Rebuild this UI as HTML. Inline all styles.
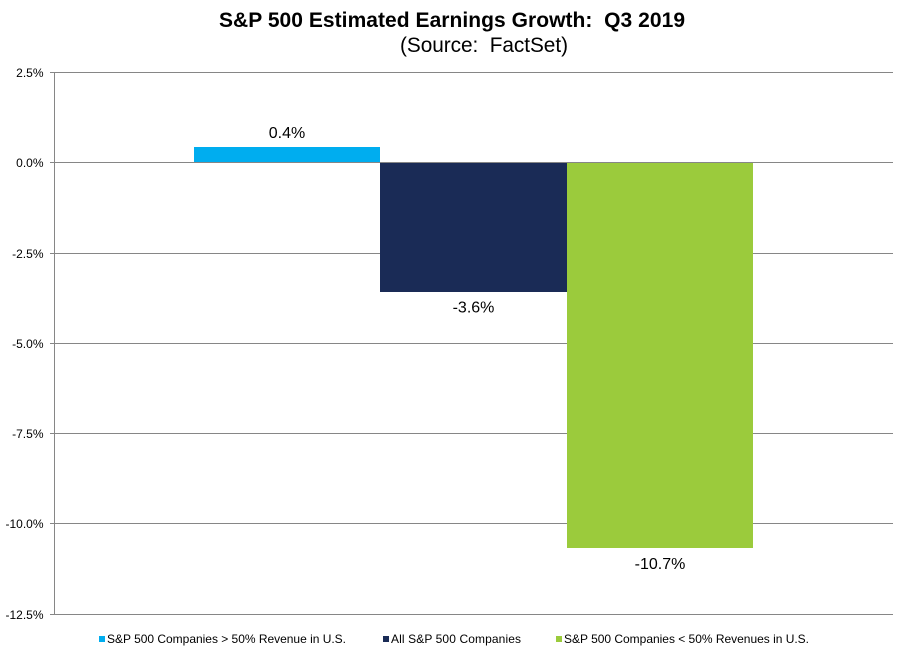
<!DOCTYPE html>
<html lang="en">
<head>
<meta charset="utf-8">
<title>S&amp;P 500 Estimated Earnings Growth: Q3 2019</title>
<style>
html,body{margin:0;padding:0;background:#fff;}
svg{display:block;font-family:"Liberation Sans",Arial,sans-serif;}
</style>
</head>
<body>
<svg id="chart" width="906" height="653" viewBox="0 0 906 653" xmlns="http://www.w3.org/2000/svg">
<rect x="0" y="0" width="906" height="653" fill="#ffffff"/>
<text x="219" y="27" textLength="466" lengthAdjust="spacing" font-size="21" font-weight="bold" fill="#000">S&amp;P 500 Estimated Earnings Growth:&#160; Q3 2019</text>
<text x="400" y="52" textLength="168" lengthAdjust="spacing" font-size="20.8" fill="#000">(Source:&#160; FactSet)</text>
<g id="grid"></g>
<g id="bars"></g>
<g id="axis"></g>
<g id="labels"></g>
<g id="legend"></g>
</svg>
<script>
var seriesNames = ["S&P 500 Companies > 50% Revenue in U.S.", "All S&P 500 Companies", "S&P 500 Companies < 50% Revenues in U.S."];
var seriesValues = [0.42, -3.58, -10.68];
var seriesColors = ["#00adef", "#1a2b56", "#9bcb3c"];
var tickValues = [2.5, 0, -2.5, -5, -7.5, -10, -12.5];

var NS = "http://www.w3.org/2000/svg";
var plotLeft = 54, plotRight = 893, plotTop = 72, plotBottom = 613.7;
var domainMax = 2.5, domainMin = -12.5;

function yScale(v) {
  return plotTop + (domainMax - v) / (domainMax - domainMin) * (plotBottom - plotTop);
}
function barUnit() {
  return (plotRight - plotLeft) / (seriesValues.length + 1.5);
}
function barEdge(i) {
  return Math.round(plotLeft + barUnit() * (0.75 + i));
}
function make(tag, attrs, parent, text) {
  var el = document.createElementNS(NS, tag);
  for (var k in attrs) el.setAttribute(k, attrs[k]);
  if (text !== undefined) el.textContent = text;
  parent.appendChild(el);
  return el;
}

var grid = document.getElementById("grid");
var axis = document.getElementById("axis");
var bars = document.getElementById("bars");
var labels = document.getElementById("labels");
var legend = document.getElementById("legend");

tickValues.forEach(function (t) {
  var y = Math.round(yScale(t)) + 0.5;
  var parent = t === 0 ? axis : grid;
  var line = make("line", {x1: plotLeft - 4, x2: plotRight, y1: y, y2: y, stroke: "#868686", "stroke-width": 1}, parent);
  
  
  var tick = make("text", {x: 43.5, y: y + 4.5, "text-anchor": "end", "font-size": 12, fill: "#000"}, axis, t.toFixed(1) + "%");
  
  
});

var yAxisLine = make("line", {x1: plotLeft + 0.5, x2: plotLeft + 0.5, y1: plotTop, y2: Math.round(plotBottom) + 1, stroke: "#868686", "stroke-width": 1}, axis);



seriesValues.forEach(function (v, i) {
  var y0 = yScale(0), y1 = yScale(v);
  var left = barEdge(i), right = barEdge(i + 1);
  var top = Math.round(Math.min(y0, y1));
  var bottom = Math.round(Math.max(y0, y1));
  var bar = make("rect", {x: left, y: top, width: right - left, height: bottom - top, fill: seriesColors[i]}, bars);
  
  
  var ly = v >= 0 ? y1 - 9 : y1 + 21;
  var label = make("text", {x: (left + right) / 2, y: ly, "text-anchor": "middle", "font-size": 16, fill: "#000"}, labels, v.toFixed(1) + "%");
  
  
});

var legendSwatchX = [99, 383, 556];
var legendTextWidths = [239, 130, 245];
seriesNames.forEach(function (name, i) {
  var swatch = make("rect", {x: legendSwatchX[i], y: 636, width: 6, height: 6, fill: seriesColors[i]}, legend);
  
  
  var text = make("text", {x: legendSwatchX[i] + 8, y: 643, "font-size": 12, fill: "#000", textLength: legendTextWidths[i], lengthAdjust: "spacing"}, legend, name);
  
  
});
</script>
</body>
</html>
